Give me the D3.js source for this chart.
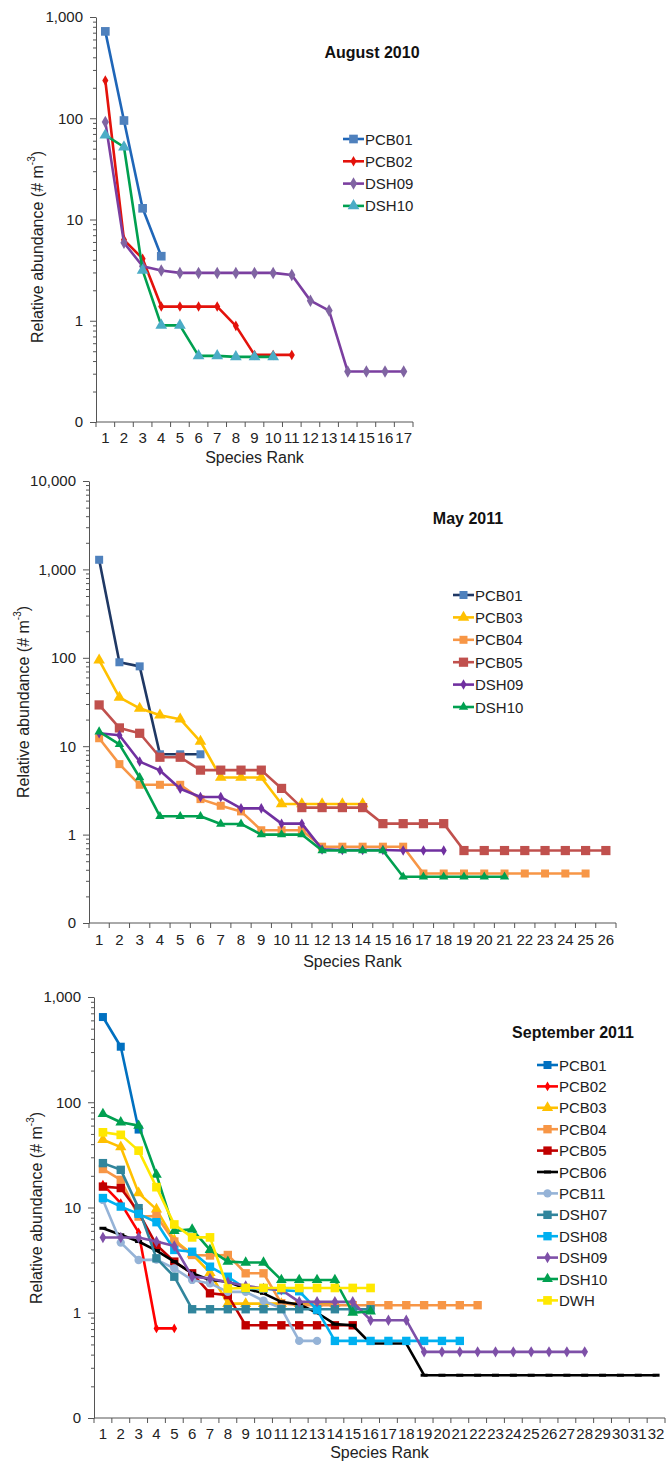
<!DOCTYPE html>
<html lang="en">
  <head>
    <meta charset="UTF-8" />
    <title>Species rank abundance</title>
    <script src="https://d3js.org/d3.v7.min.js"></script>
    <style>
      body {
        margin: 0;
        background: #fff;
        font-family: "Liberation Sans", Arial, sans-serif;
      }
      .axis path,
      .axis line {
        stroke: #555;
      }
      .axis text {
        font-size: 15px;
        fill: #222;
        font-family: "Liberation Sans", Arial, sans-serif;
      }
      .label {
        font-size: 16px;
        fill: #222;
      }
      .title {
        font-size: 16px;
        font-weight: bold;
        fill: #111;
      }
      .legend text {
        font-size: 15px;
        fill: #222;
      }
    </style>
  </head>
  <body>
    <svg width="667" height="1461"></svg>

    <script>
      // y tick labels (log axis, bottom tick is 0.1 shown as "0")
      const yTicks3 = [0.1, 1, 10, 100, 1000];
      const yTicks4 = [0.1, 1, 10, 100, 1000, 10000];

      // ---- August 2010 ----
      const augNames = ["PCB01", "PCB02", "DSH09", "DSH10"];
      const augPCB01 = [721, 95, 12.9, 4.34];
      const augPCB02 = [236, 6.3, 4.1, 1.38, 1.38, 1.38, 1.38, 0.89, 0.46, 0.46, 0.46];
      const augDSH09 = [92, 5.9, 3.45, 3.13, 2.97, 2.97, 2.97, 2.97, 2.97, 2.97, 2.83, 1.58, 1.26, 0.315, 0.315, 0.315, 0.315];
      const augDSH10 = [68, 52, 3.15, 0.9, 0.9, 0.45, 0.45, 0.44, 0.44, 0.44];

      // ---- May 2011 ----
      const mayNames = ["PCB01", "PCB03", "PCB04", "PCB05", "DSH09", "DSH10"];
      const mayPCB01 = [1285, 89, 80, 8.1, 8.1, 8.1];
      const mayPCB03 = [94, 35.7, 26.8, 22.4, 20.2, 11.3, 4.43, 4.43, 4.43, 2.22, 2.22, 2.22, 2.22, 2.22];
      const mayPCB04 = [12.3, 6.27, 3.66, 3.66, 3.66, 2.52, 2.12, 1.83, 1.12, 1.12, 1.12, 0.73, 0.73, 0.73, 0.73, 0.73,
        0.363, 0.363, 0.363, 0.363, 0.363, 0.363, 0.363, 0.363, 0.363];
      const mayPCB05 = [29.3, 16.1, 14, 7.5, 7.5, 5.36, 5.36, 5.36, 5.36, 3.33, 2.02, 2.02, 2.02, 2.02, 1.33, 1.33, 1.33, 1.33,
        0.66, 0.66, 0.66, 0.66, 0.66, 0.66, 0.66, 0.66];
      const mayDSH09 = [14, 13.3, 6.7, 5.32, 3.3, 2.66, 2.66, 1.98, 1.98, 1.33, 1.33, 0.68, 0.67, 0.67, 0.67, 0.66, 0.66, 0.66];
      const mayDSH10 = [14.6, 10.5, 4.43, 1.61, 1.61, 1.61, 1.32, 1.32, 1.0, 1.0, 1.0, 0.66, 0.66, 0.66, 0.66,
        0.333, 0.333, 0.333, 0.333, 0.333, 0.333];

      // ---- September 2011 ----
      const sepNames = ["PCB01", "PCB02", "PCB03", "PCB04", "PCB05", "PCB06", "PCB11", "DSH07", "DSH08", "DSH09", "DSH10", "DWH"];
      const sepPCB01 = [645, 337, 55];
      const sepPCB02 = [16.5, 11, 5.8, 0.71, 0.71];
      const sepPCB03 = [44, 37.5, 13.7, 9.6, 4.9, 3.6, 2.4, 1.22, 1.22, 1.22, 1.22, 1.22, 1.22, 1.22];
      const sepPCB04 = [23.2, 18.3, 8.2, 8.3, 4.75, 3.54, 3.5, 3.54, 2.37, 2.37, 1.23, 1.18, 1.18, 1.18, 1.18, 1.18, 1.18,
        1.18, 1.18, 1.18, 1.18, 1.18];
      const sepPCB05 = [15.8, 15.3, 9, 4.4, 3.06, 2.37, 1.53, 1.47, 0.76, 0.76, 0.76, 0.76, 0.76, 0.76, 0.76];
      const sepPCB06 = [6.35, 5.5, 4.75, 3.9, 3.06, 2.37, 2.05, 1.97, 1.7, 1.53, 1.27, 1.2, 1.0, 0.78, 0.76, 0.51, 0.51, 0.51,
        0.255, 0.255, 0.255, 0.255, 0.255, 0.255, 0.255, 0.255, 0.255, 0.255, 0.255, 0.255, 0.255, 0.255];
      const sepPCB11 = [11.8, 4.64, 3.17, 3.2, 2.64, 2.05, 1.9, 1.58, 1.58, 1.3, 1.1, 0.54, 0.54];
      const sepDSH07 = [26.4, 22.8, 9.86, 3.29, 2.2, 1.08, 1.08, 1.08, 1.08, 1.08, 1.08, 1.08, 1.08, 1.08, 1.08, 1.08];
      const sepDSH08 = [12.3, 10.2, 8.7, 7.25, 3.95, 3.8, 2.74, 2.2, 1.7, 1.7, 1.64, 1.6, 1.07, 0.54, 0.54, 0.54, 0.54,
        0.54, 0.54, 0.54, 0.54];
      const sepDSH09 = [5.18, 5.18, 5.18, 4.75, 4.3, 2.2, 2.12, 1.95, 1.8, 1.7, 1.65, 1.27, 1.27, 1.27, 1.27, 0.85, 0.85, 0.85,
        0.425, 0.425, 0.425, 0.425, 0.425, 0.425, 0.425, 0.425, 0.425, 0.425];
      const sepDSH10 = [77.4, 64.5, 60, 20.5, 6.0, 6.2, 3.95, 3.06, 3.0, 3.0, 2.05, 2.05, 2.05, 2.05, 1.0, 1.03];
      const sepDWH = [51.8, 49, 34.7, 15.6, 6.9, 5.2, 5.2, 1.7, 1.72, 1.72, 1.72, 1.72, 1.72, 1.72, 1.72, 1.72];

      const svg = d3.select("svg");
      const yFmt = (v) => (v < 1 ? "0" : d3.format(",")(v));

      const symbols = {
        square: d3.symbol().type(d3.symbolSquare),
        diamond: d3.symbol().type(d3.symbolDiamond),
        triangle: d3.symbol().type(d3.symbolTriangle),
        circle: d3.symbol().type(d3.symbolCircle),
      };

      function marker(g, s) {
        if (s.shape === "dash") {
          return g.append("rect").attr("x", -3.5).attr("y", -1.5).attr("width", 7).attr("height", 3).attr("fill", s.mc);
        }
        return g
          .append("path")
          .attr("d", symbols[s.shape].size(s.size)())
          .attr("fill", s.mc);
      }

      function drawPanel(p) {
        const g = svg.append("g");
        const ranks = d3.range(1, p.nRanks + 1);
        const x = d3.scaleBand().domain(ranks).range([p.left, p.right]);
        const bw = x.bandwidth();
        const y = d3.scaleLog().domain([0.1, p.yTicks[p.yTicks.length - 1]]).range([p.bottom, p.top]);

        // minor ticks
        const minor = y.ticks().filter((v) => !p.yTicks.includes(v));
        g.append("g")
          .attr("class", "axis")
          .attr("transform", `translate(${p.left},0)`)
          .call(d3.axisLeft(y).tickValues(minor).tickSize(3).tickFormat(""))
          .call((a) => a.select(".domain").remove());

        g.append("g")
          .attr("class", "axis")
          .attr("transform", `translate(${p.left},0)`)
          .call(d3.axisLeft(y).tickValues(p.yTicks).tickFormat(yFmt).tickSize(6).tickSizeOuter(0).tickPadding(7));

        const xa = g
          .append("g")
          .attr("class", "axis")
          .attr("transform", `translate(0,${p.bottom})`)
          .call(d3.axisBottom(x).tickSize(0).tickPadding(p.xPad));
        xa.select(".domain").attr("d", `M${p.left},0H${p.right}`);
        xa.selectAll("text").style("font-size", p.xFont + "px");
        xa.selectAll("line.bound")
          .data(d3.range(p.nRanks + 1))
          .enter()
          .append("line")
          .attr("class", "bound")
          .attr("x1", (i) => p.left + i * bw)
          .attr("x2", (i) => p.left + i * bw)
          .attr("y1", 0)
          .attr("y2", 5);

        g.append("text")
          .attr("class", "label")
          .attr("x", (p.left + p.right) / 2)
          .attr("y", p.xTitleY)
          .attr("text-anchor", "middle")
          .text("Species Rank");

        const yl = g
          .append("text")
          .attr("class", "label")
          .attr("transform", `translate(${p.yTitleX},${p.yTitleY}) rotate(-90)`)
          .attr("text-anchor", "middle")
          .attr("dominant-baseline", "central");
        yl.append("tspan").text("Relative abundance (# m");
        yl.append("tspan").attr("font-size", "10px").attr("dy", -6).text("-3");
        yl.append("tspan").attr("dy", 6).text(")");

        g.append("text")
          .attr("class", "title")
          .attr("x", p.titleX)
          .attr("y", p.titleY)
          .attr("text-anchor", "middle")
          .attr("dominant-baseline", "central")
          .text(p.title);

        const line = d3
          .line()
          .x((d, i) => x(i + 1) + bw / 2)
          .y((d) => y(d));

        p.series.forEach((s) => {
          const sg = g.append("g");
          sg.append("path")
            .attr("d", line(s.values))
            .attr("fill", "none")
            .attr("stroke", s.lc)
            .attr("stroke-width", 2.6)
            .attr("stroke-linejoin", "round");
          s.values.forEach((v, i) => {
            const mg = sg.append("g").attr("transform", `translate(${x(i + 1) + bw / 2},${y(v)})`);
            marker(mg, s);
          });
        });

        // legend
        const lg = g.append("g").attr("class", "legend");
        p.series.forEach((s, i) => {
          const ly = p.legY + i * p.legStep;
          lg.append("line")
            .attr("x1", p.legX)
            .attr("x2", p.legX + 21)
            .attr("y1", ly)
            .attr("y2", ly)
            .attr("stroke", s.lc)
            .attr("stroke-width", 2.6);
          marker(lg.append("g").attr("transform", `translate(${p.legX + 10.5},${ly})`), s);
          lg.append("text")
            .attr("x", p.legX + 22)
            .attr("y", ly)
            .attr("dominant-baseline", "central")
            .text(s.name);
        });
      }

      drawPanel({
        title: "August 2010",
        titleX: 372, titleY: 52,
        left: 96, right: 413, top: 17, bottom: 422,
        nRanks: 17, yTicks: yTicks3, xPad: 10, xFont: 15,
        xTitleY: 463, yTitleX: 37, yTitleY: 247,
        legX: 343, legY: 139, legStep: 22.3,
        series: [
          { name: augNames[0], values: augPCB01, lc: "#1f66b8", mc: "#4f81bd", shape: "square", size: 75 },
          { name: augNames[1], values: augPCB02, lc: "#e3120b", mc: "#e3120b", shape: "diamond", size: 32 },
          { name: augNames[2], values: augDSH09, lc: "#7b3fa0", mc: "#8064a2", shape: "diamond", size: 45 },
          { name: augNames[3], values: augDSH10, lc: "#00a050", mc: "#4bacc6", shape: "triangle", size: 60 },
        ],
      });

      drawPanel({
        title: "May 2011",
        titleX: 468, titleY: 518,
        left: 89, right: 616, top: 481, bottom: 923,
        nRanks: 26, yTicks: yTicks4, xPad: 11, xFont: 15,
        xTitleY: 967, yTitleX: 23, yTitleY: 702,
        legX: 453, legY: 595, legStep: 22.4,
        series: [
          { name: mayNames[0], values: mayPCB01, lc: "#1f3864", mc: "#4f81bd", shape: "square", size: 64 },
          { name: mayNames[1], values: mayPCB03, lc: "#ffc000", mc: "#ffc000", shape: "triangle", size: 58 },
          { name: mayNames[2], values: mayPCB04, lc: "#f79646", mc: "#f79646", shape: "square", size: 64 },
          { name: mayNames[3], values: mayPCB05, lc: "#c0504d", mc: "#c0504d", shape: "square", size: 85 },
          { name: mayNames[4], values: mayDSH09, lc: "#7030a0", mc: "#7030a0", shape: "diamond", size: 32 },
          { name: mayNames[5], values: mayDSH10, lc: "#00a050", mc: "#00a050", shape: "triangle", size: 38 },
        ],
      });

      drawPanel({
        title: "September 2011",
        titleX: 573, titleY: 1032,
        left: 94, right: 665, top: 997, bottom: 1418,
        nRanks: 32, yTicks: yTicks3, xPad: 10, xFont: 15,
        xTitleY: 1458, yTitleX: 36, yTitleY: 1208,
        legX: 537, legY: 1065, legStep: 21.4,
        series: [
          { name: sepNames[0], values: sepPCB01, lc: "#0070c0", mc: "#0070c0", shape: "square", size: 64 },
          { name: sepNames[1], values: sepPCB02, lc: "#ff0000", mc: "#ff0000", shape: "diamond", size: 28 },
          { name: sepNames[2], values: sepPCB03, lc: "#ffc000", mc: "#ffc000", shape: "triangle", size: 55 },
          { name: sepNames[3], values: sepPCB04, lc: "#f79646", mc: "#f79646", shape: "square", size: 70 },
          { name: sepNames[4], values: sepPCB05, lc: "#c00000", mc: "#c00000", shape: "square", size: 70 },
          { name: sepNames[5], values: sepPCB06, lc: "#000000", mc: "#000000", shape: "dash", size: 0 },
          { name: sepNames[6], values: sepPCB11, lc: "#95b3d7", mc: "#95b3d7", shape: "circle", size: 55 },
          { name: sepNames[7], values: sepDSH07, lc: "#31859c", mc: "#31859c", shape: "square", size: 70 },
          { name: sepNames[8], values: sepDSH08, lc: "#00b0f0", mc: "#00b0f0", shape: "square", size: 70 },
          { name: sepNames[9], values: sepDSH09, lc: "#7e50a8", mc: "#7e50a8", shape: "diamond", size: 38 },
          { name: sepNames[10], values: sepDSH10, lc: "#00a050", mc: "#00a050", shape: "triangle", size: 50 },
          { name: sepNames[11], values: sepDWH, lc: "#ffe800", mc: "#ffe800", shape: "square", size: 75 },
        ],
      });
    </script>
  </body>
</html>
